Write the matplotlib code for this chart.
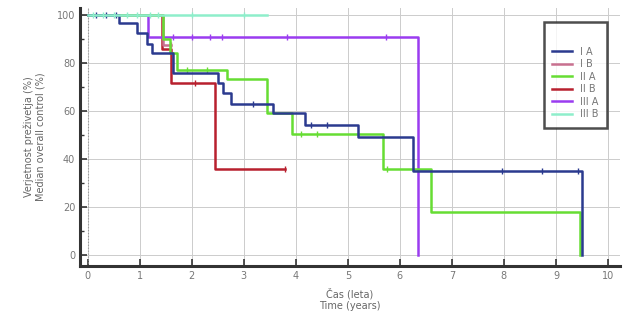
import matplotlib
matplotlib.use("Agg")
import matplotlib.pyplot as plt
from matplotlib.ticker import MultipleLocator

# -----------------------------
# Data
# -----------------------------
labels = ["I A", "I B", "II A", "II B", "III A", "III B"]
colors = ["#2b3a8f", "#c8708f", "#66dd33", "#b8202e", "#9a3cf0", "#8eeecb"]

# step curves: times where survival changes, survival value after that time
ia_t = [0, 0.6, 0.95, 1.13, 1.23, 1.63, 2.5, 2.6, 2.75, 3.56, 4.17, 5.19, 6.25, 9.5, 9.5]
ia_s = [100, 96.5, 92.5, 88, 84, 76, 71.5, 67.5, 63, 59, 54, 49, 35, 35, 0]
ia_c_t = [0.15, 0.35, 0.55, 3.17, 4.3, 4.6, 7.96, 8.73, 9.42]
ia_c_s = [100, 100, 100, 63, 54, 54, 35, 35, 35]

ib_t = [0, 1.45, 1.6]
ib_s = [100, 87.5, 87.5]
ib_c_t = [1.6]
ib_c_s = [87.5]

iia_t = [0, 1.45, 1.58, 1.72, 2.67, 3.44, 3.92, 5.67, 6.6, 9.46, 9.46]
iia_s = [100, 90, 84, 77, 73.5, 59, 50.5, 36, 18, 18, 0]
iia_c_t = [1.9, 2.3, 4.1, 4.4, 5.75]
iia_c_s = [77, 77, 50.5, 50.5, 36]

iib_t = [0, 1.43, 1.6, 2.44, 3.79]
iib_s = [100, 86, 71.5, 36, 36]
iib_c_t = [2.06, 3.79]
iib_c_s = [71.5, 36]

iiia_t = [0, 1.15, 6.35, 6.35]
iiia_s = [100, 91, 91, 0]
iiia_c_t = [1.63, 2.0, 2.35, 2.58, 3.83, 5.73]
iiia_c_s = [91, 91, 91, 91, 91, 91]

iiib_t = [0, 3.44]
iiib_s = [100, 100]
iiib_c_t = [0.1, 0.3, 0.5, 0.75, 0.95, 1.2, 1.35, 2.0, 3.0]
iiib_c_s = [100] * 9

curves = [
    (ia_t, ia_s, ia_c_t, ia_c_s),
    (ib_t, ib_s, ib_c_t, ib_c_s),
    (iia_t, iia_s, iia_c_t, iia_c_s),
    (iib_t, iib_s, iib_c_t, iib_c_s),
    (iiia_t, iiia_s, iiia_c_t, iiia_c_s),
    (iiib_t, iiib_s, iiib_c_t, iiib_c_s),
]

# draw order: short red/pink first, mint on top along the 100 % line
order = [3, 1, 4, 2, 0, 5]

fig = plt.figure(figsize=(6.3, 3.21), dpi=100)
ax = fig.add_axes([0.127, 0.171, 0.857, 0.805])

ax.grid(True, color="#cccccc", linewidth=0.7)
ax.set_axisbelow(True)
ax.axvline(0, color="#999999", linestyle=":", linewidth=0.8)

handles = {}
for i in order:
    t, s, ct, cs = curves[i]
    (ln,) = ax.step(t, s, where="post", color=colors[i], linewidth=1.8, label=labels[i])
    ax.plot(ct, cs, linestyle="none", marker="|", markersize=5, markeredgewidth=1.0,
            color=colors[i])
    handles[i] = ln

ax.set_xlim(-0.15, 10.23)
ax.set_ylim(-4.6, 103)
ax.xaxis.set_major_locator(MultipleLocator(1))
ax.yaxis.set_major_locator(MultipleLocator(20))
ax.yaxis.set_minor_locator(MultipleLocator(10))

for side in ["top", "right"]:
    ax.spines[side].set_visible(False)
for side in ["left", "bottom"]:
    ax.spines[side].set_linewidth(2.2)
    ax.spines[side].set_color("#333333")

ax.tick_params(axis="both", which="major", direction="in", length=5, width=1.2,
               labelsize=7, labelcolor="#777777", color="#333333")
ax.tick_params(axis="y", which="minor", direction="in", length=3, width=1.0, color="#333333")

ax.set_xlabel("Čas (leta)\nTime (years)", fontsize=7, color="#666666", labelpad=5)
ax.set_ylabel("Verjetnost preživetja (%)\nMedian overall control (%)", fontsize=7,
              color="#666666", labelpad=8)

leg = ax.legend([handles[i] for i in range(6)], labels, loc="upper right",
                bbox_to_anchor=(0.985, 0.965), fontsize=7, frameon=True, fancybox=False,
                handlelength=2.0, labelspacing=0.25, borderpad=0.9, title=" ",
                title_fontsize=10, labelcolor="#777777")
leg.get_frame().set_edgecolor("#222222")
leg.get_frame().set_linewidth(1.8)

fig.savefig("out.png", dpi=100)
